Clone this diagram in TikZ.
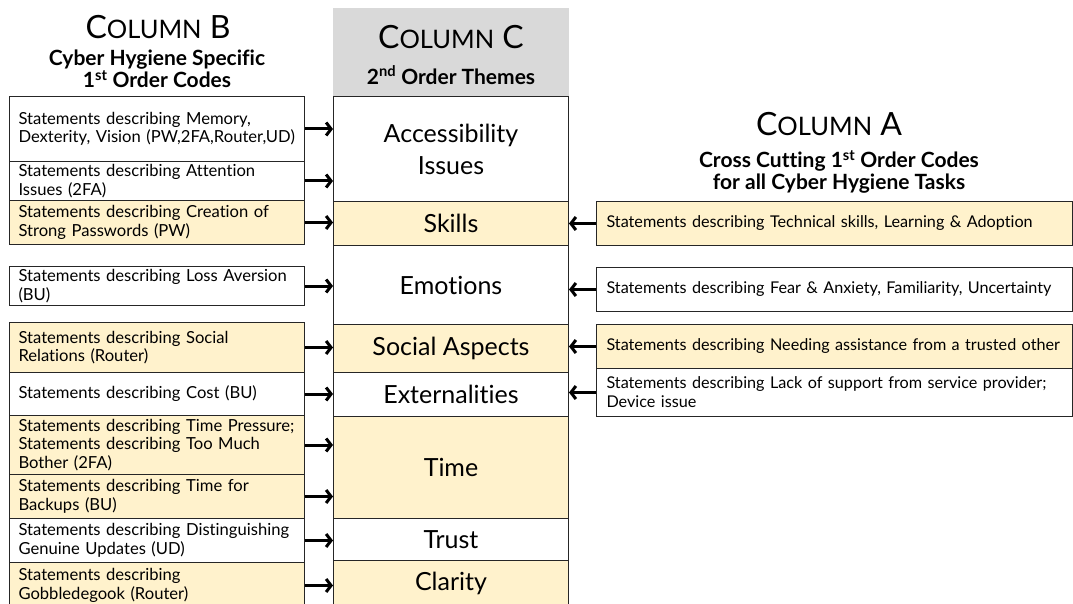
\documentclass[tikz,border=0pt]{standalone}
\usepackage{fontspec}
\setmainfont{Lato}[Ligatures=NoCommon]
\usetikzlibrary{arrows.meta,positioning}

\definecolor{codeYellow}{HTML}{FFF2CC}
\definecolor{headGrey}{HTML}{D9D9D9}

% no hyphenation inside the boxes
\hyphenpenalty=10000

% small-caps column heading: big C, smaller OLUMN, big letter
\newcommand{\colTitle}[1]{\fontsize{32}{34}\selectfont C{\fontsize{25.5}{27}\selectfont OLUMN} #1}

\begin{document}
\begin{tikzpicture}[x=1pt, y=-1pt,
  codebox/.style={draw=black!85, line width=1pt, anchor=north west,
    minimum width=295pt, text width=277pt, inner xsep=9pt, inner ysep=0pt,
    align=left, font=\fontsize{16.6}{18.5}\selectfont},
  themebox/.style={draw=black!85, line width=1pt, anchor=north west,
    minimum width=235pt, inner sep=0pt, align=center,
    font=\fontsize{25}{32}\selectfont},
  crossbox/.style={draw=black!85, line width=1pt, anchor=north west,
    minimum width=476pt, text width=456pt, inner xsep=10pt, inner ysep=0pt,
    align=left, font=\fontsize{16.2}{19}\selectfont},
  subhead/.style={align=center, font=\bfseries\fontsize{21}{22}\selectfont},
  link/.style={line width=3pt, -{Straight Barb[length=5pt,width=13pt]}}
]

\useasboundingbox (0,0) rectangle (1073,604);
\clip (0,0) rectangle (1073,604);

%--------------------
% Column C: 2nd order themes (middle)
%--------------------
\fill[headGrey] (333,8) rectangle (569,96);
\node (headC) at (451,37) {\colTitle{C}};
\node[subhead] (subC) at (451,75) {2\textsuperscript{nd} Order Themes};

\node[themebox, minimum height=105pt] (thAccess) at (333,96) {Accessibility\\Issues};
\node[themebox, minimum height=44pt, fill=codeYellow] (thSkills) at (333,201) {Skills};
\node[themebox, minimum height=79pt] (thEmotions) at (333,245) {Emotions};
\node[themebox, minimum height=48pt, fill=codeYellow] (thSocial) at (333,324) {Social Aspects};
\node[themebox, minimum height=44pt] (thExternal) at (333,372) {Externalities};
\node[themebox, minimum height=102pt, fill=codeYellow] (thTime) at (333,416) {Time};
\node[themebox, minimum height=42pt] (thTrust) at (333,518) {Trust};
\node[themebox, minimum height=46pt, fill=codeYellow] (thClarity) at (333,560) {Clarity};

%--------------------
% Column B: task specific codes (left)
%--------------------
\node (headB) at (158,27) {\colTitle{B}};
\node[subhead] (subB) at (157,69) {Cyber Hygiene Specific\\1\textsuperscript{st} Order Codes};

\node[codebox, minimum height=65pt] (codeMemory) at (9,96)
  {Statements describing Memory,\\Dexterity, Vision (PW,2FA,Router,UD)};
\node[codebox, minimum height=39pt] (codeAttention) at (9,161)
  {Statements describing Attention\\Issues (2FA)};
\node[codebox, minimum height=44pt, fill=codeYellow] (codePassword) at (9,200)
  {Statements describing Creation of\\Strong Passwords (PW)};
\node[codebox, minimum height=39pt] (codeLoss) at (9,266)
  {Statements describing Loss Aversion\\(BU)};
\node[codebox, minimum height=50pt, fill=codeYellow] (codeSocial) at (9,322)
  {Statements describing Social\\Relations (Router)};
\node[codebox, minimum height=43pt] (codeCost) at (9,372)
  {Statements describing Cost (BU)};
\node[codebox, minimum height=59pt, fill=codeYellow] (codePressure) at (9,415)
  {Statements describing Time Pressure;\\Statements describing Too Much\\Bother (2FA)};
\node[codebox, minimum height=44pt, fill=codeYellow] (codeBackup) at (9,474)
  {Statements describing Time for\\Backups (BU)};
\node[codebox, minimum height=44pt] (codeUpdate) at (9,518)
  {Statements describing Distinguishing\\Genuine Updates (UD)};
\node[codebox, minimum height=46pt, fill=codeYellow] (codeGobble) at (9,562)
  {Statements describing\\Gobbledegook (Router)};

% arrows into the themes
\foreach \c in {codeMemory,codeAttention,codePassword,codeLoss,codeSocial,
                codeCost,codePressure,codeBackup,codeUpdate,codeGobble}
  \draw[link] (\c.east) -- (\c.east -| thAccess.west);

%--------------------
% Column A: cross cutting codes (right)
%--------------------
\node (headA) at (829,124) {\colTitle{A}};
\node[subhead] (subA) at (839,172) {Cross Cutting 1\textsuperscript{st} Order Codes\\for all Cyber Hygiene Tasks};

\node[crossbox, minimum height=44pt, fill=codeYellow] (xSkills) at (596,201)
  {Statements describing Technical skills, Learning \& Adoption};
\node[crossbox, minimum height=44pt] (xFear) at (596,267)
  {Statements describing Fear \& Anxiety, Familiarity, Uncertainty};
\node[crossbox, minimum height=44pt, fill=codeYellow] (xAssist) at (596,324)
  {Statements describing Needing assistance from a trusted other};
\node[crossbox, minimum height=48pt] (xSupport) at (596,368)
  {Statements describing Lack of support from service provider;\\Device issue};

\foreach \c in {xSkills,xFear,xAssist,xSupport}
  \draw[link] (\c.west) -- (\c.west -| thAccess.east);

\end{tikzpicture}
\end{document}
